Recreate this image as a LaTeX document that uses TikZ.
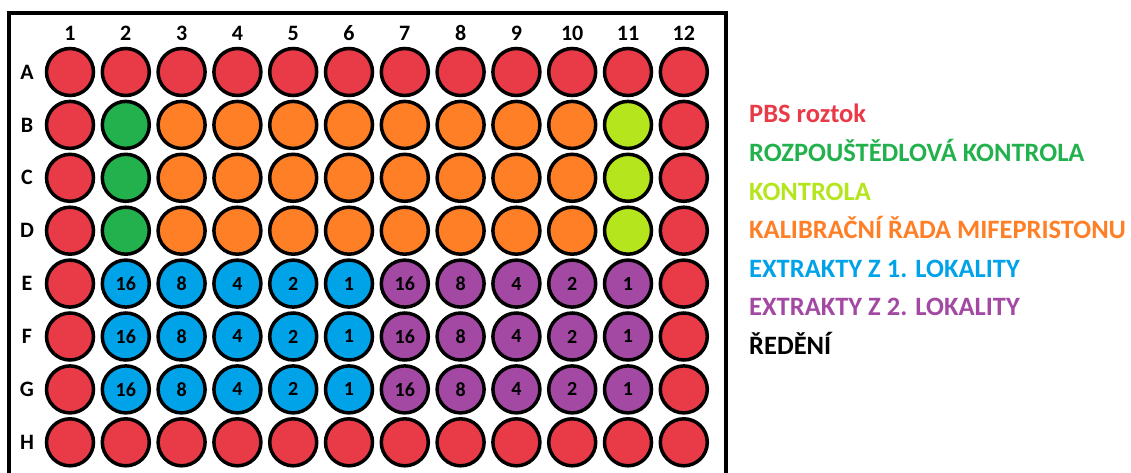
\documentclass[tikz,border=0pt]{standalone}
\usepackage{fontspec}
\setmainfont{Carlito}
\usetikzlibrary{positioning}
\definecolor{wRed}{RGB}{232,58,71}
\definecolor{wGreen}{RGB}{34,177,76}
\definecolor{wLime}{RGB}{181,230,29}
\definecolor{wOrange}{RGB}{255,127,39}
\definecolor{wBlue}{RGB}{0,162,232}
\definecolor{wPurple}{RGB}{163,73,164}
\tikzset{
  well/.style={circle,draw=black,line width=3.5pt,minimum size=47pt,
    inner sep=0pt,font=\bfseries\fontsize{20}{20}\selectfont},
  plate/.style={draw=black,line width=4pt},
  header/.style={font=\bfseries\fontsize{22}{22}\selectfont,inner sep=0pt},
  legend/.style={anchor=base west,inner sep=0pt,
    font=\bfseries\fontsize{26.5}{26.5}\selectfont}
}

\begin{document}
\begin{tikzpicture}[x=1pt,y=-1pt]
  \useasboundingbox (0,0) rectangle (1131,473);
  % plate frame
  \coordinate (frameBL) at (9,490);
  \coordinate (frameTL) at (9,13);
  \coordinate (frameTR) at (726,13);
  \coordinate (frameBR) at (726,490);
  \draw[plate] (frameBL) -- (frameTL) -- (frameTR) -- (frameBR);
  % headers
  \foreach \c in {1,...,12}{
    \node[header] (col\c) at ({70+55.8*(\c-1)},33) {\c};
  }
  \foreach \r [count=\i] in {A,...,H}{
    \node[header] (row\r) at (27,{72+52.9*(\i-1)}) {\r};
  }
  % wells
  \foreach \r/\cells [count=\i] in {
    A/{wRed/,wRed/,wRed/,wRed/,wRed/,wRed/,wRed/,wRed/,wRed/,wRed/,wRed/,wRed/},
    B/{wRed/,wGreen/,wOrange/,wOrange/,wOrange/,wOrange/,wOrange/,wOrange/,wOrange/,wOrange/,wLime/,wRed/},
    C/{wRed/,wGreen/,wOrange/,wOrange/,wOrange/,wOrange/,wOrange/,wOrange/,wOrange/,wOrange/,wLime/,wRed/},
    D/{wRed/,wGreen/,wOrange/,wOrange/,wOrange/,wOrange/,wOrange/,wOrange/,wOrange/,wOrange/,wLime/,wRed/},
    E/{wRed/,wBlue/16,wBlue/8,wBlue/4,wBlue/2,wBlue/1,wPurple/16,wPurple/8,wPurple/4,wPurple/2,wPurple/1,wRed/},
    F/{wRed/,wBlue/16,wBlue/8,wBlue/4,wBlue/2,wBlue/1,wPurple/16,wPurple/8,wPurple/4,wPurple/2,wPurple/1,wRed/},
    G/{wRed/,wBlue/16,wBlue/8,wBlue/4,wBlue/2,wBlue/1,wPurple/16,wPurple/8,wPurple/4,wPurple/2,wPurple/1,wRed/},
    H/{wRed/,wRed/,wRed/,wRed/,wRed/,wRed/,wRed/,wRed/,wRed/,wRed/,wRed/,wRed/}}{
    \foreach \f/\t [count=\c] in \cells{
      \node[well,fill=\f] (well\r\c) at (col\c |- row\r) {\t};
    }
  }
  % legend
  \foreach \f/\t [count=\i] in {
    wRed/PBS roztok,
    wGreen/ROZPOUŠTĚDLOVÁ KONTROLA,
    wLime/KONTROLA,
    wOrange/KALIBRAČNÍ ŘADA MIFEPRISTONU,
    wBlue/EXTRAKTY Z 1. LOKALITY,
    wPurple/EXTRAKTY Z 2. LOKALITY,
    black/ŘEDĚNÍ}{
    \node[legend,text=\f] (leg\i) at (749,{123+38.5*(\i-1)}) {\t};
  }
\end{tikzpicture}
\end{document}
